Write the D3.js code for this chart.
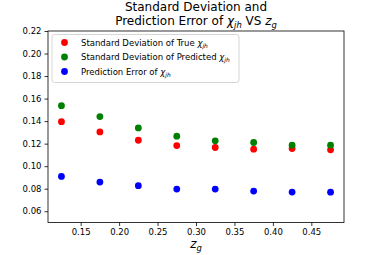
<!DOCTYPE html>
<html>
<head>
<meta charset="utf-8">
<script src="https://cdn.jsdelivr.net/npm/d3@7"></script>
<style>
	body { margin: 0; background: #fff; }
	text { font-family: "DejaVu Sans", sans-serif; fill: #000; }
</style>
</head>
<body>
<div id="chart"></div>
<script>
var zg = [0.125, 0.175, 0.225, 0.275, 0.325, 0.375, 0.425, 0.475];
var stdTrue = [0.1395, 0.1304, 0.1230, 0.1183, 0.1166, 0.1151, 0.1157, 0.1145];
var stdPred = [0.1537, 0.1440, 0.1340, 0.1266, 0.1225, 0.1210, 0.1186, 0.1186];
var predErr = [0.0909, 0.0859, 0.0827, 0.0797, 0.0797, 0.0779, 0.0770, 0.0769];
var xTicks = [0.15, 0.20, 0.25, 0.30, 0.35, 0.40, 0.45];
var yTicks = [0.06, 0.08, 0.10, 0.12, 0.14, 0.16, 0.18, 0.20, 0.22];

var series = [
	{ label: "Standard Deviation of True ", color: "red", values: stdTrue },
	{ label: "Standard Deviation of Predicted ", color: "green", values: stdPred },
	{ label: "Prediction Error of ", color: "blue", values: predErr }
];

var chartW = 382, chartH = 255,
	plotL = 48, plotR = 344, plotT = 31, plotB = 222.5;

var x = d3.scaleLinear().domain([0.1075, 0.4925]).range([plotL, plotR]),
	y = d3.scaleLinear().domain([0.05, 0.22]).range([plotB, plotT]);

var svg = d3.select("#chart")
	.append("svg")
	.attr("width", chartW)
	.attr("height", chartH);

// axes
var xAxis = svg.append("g")
	.attr("transform", "translate(0," + plotB + ")")
	.call(d3.axisBottom(x).tickValues(xTicks).tickFormat(d3.format(".2f")).tickSize(3.5).tickPadding(3));
var yAxis = svg.append("g")
	.attr("transform", "translate(" + plotL + ",0)")
	.call(d3.axisLeft(y).tickValues(yTicks).tickFormat(d3.format(".2f")).tickSize(3.5).tickPadding(3));

[xAxis, yAxis].forEach(function(a) {
	a.select(".domain").remove();
	a.selectAll("text").style("font-size", "8.5px").attr("fill", "#000");
	a.selectAll("line").attr("stroke", "#000").attr("stroke-width", 0.8);
});

svg.append("rect")
	.attr("x", plotL)
	.attr("y", plotT)
	.attr("width", plotR - plotL)
	.attr("height", plotB - plotT)
	.attr("fill", "none")
	.attr("stroke", "#000")
	.attr("stroke-width", 0.8);

// points
series.forEach(function(s) {
	svg.append("g")
		.selectAll("circle")
		.data(s.values)
		.enter()
		.append("circle")
		.attr("cx", function(d, i) { return x(zg[i]); })
		.attr("cy", function(d) { return y(d); })
		.attr("r", 3.4)
		.attr("fill", s.color);
});

// chi_jh helper
function chi(sel, size) {
	sel.append("tspan").attr("font-style", "italic").text("χ");
	sel.append("tspan").attr("font-style", "italic")
		.attr("font-size", size * 0.7 + "px")
		.attr("dy", size * 0.25).text("jh");
}

// legend
var legend = svg.append("g");
legend.append("rect")
	.attr("x", 52)
	.attr("y", 34.5)
	.attr("width", 187)
	.attr("height", 48)
	.attr("rx", 2.5)
	.attr("fill", "#fff")
	.attr("fill-opacity", 0.8)
	.attr("stroke", "#ccc")
	.attr("stroke-width", 0.8);

series.forEach(function(s, i) {
	var ly = 42.5 + i * 14.5;
	legend.append("circle")
		.attr("cx", 64.5)
		.attr("cy", ly)
		.attr("r", 3.4)
		.attr("fill", s.color);
	var t = legend.append("text")
		.attr("x", 81)
		.attr("y", ly + 3)
		.style("font-size", "8.5px");
	t.append("tspan").text(s.label);
	chi(t, 8.5);
});

// title
svg.append("text")
	.attr("x", 196)
	.attr("y", 11)
	.attr("text-anchor", "middle")
	.style("font-size", "12px")
	.text("Standard Deviation and");
var t2 = svg.append("text")
	.attr("x", 196)
	.attr("y", 25)
	.attr("text-anchor", "middle")
	.style("font-size", "12px");
t2.append("tspan").text("Prediction Error of ");
chi(t2, 12);
t2.append("tspan").attr("dy", -12 * 0.25).text(" VS ");
t2.append("tspan").attr("font-style", "italic").text("z");
t2.append("tspan").attr("font-style", "italic").attr("font-size", "8.4px").attr("dy", 3).text("g");

// x label
var xl = svg.append("text")
	.attr("x", 196)
	.attr("y", 248)
	.attr("text-anchor", "middle")
	.style("font-size", "12px");
xl.append("tspan").attr("font-style", "italic").text("z");
xl.append("tspan").attr("font-style", "italic").attr("font-size", "8.4px").attr("dy", 3).text("g");
</script>
</body>
</html>
